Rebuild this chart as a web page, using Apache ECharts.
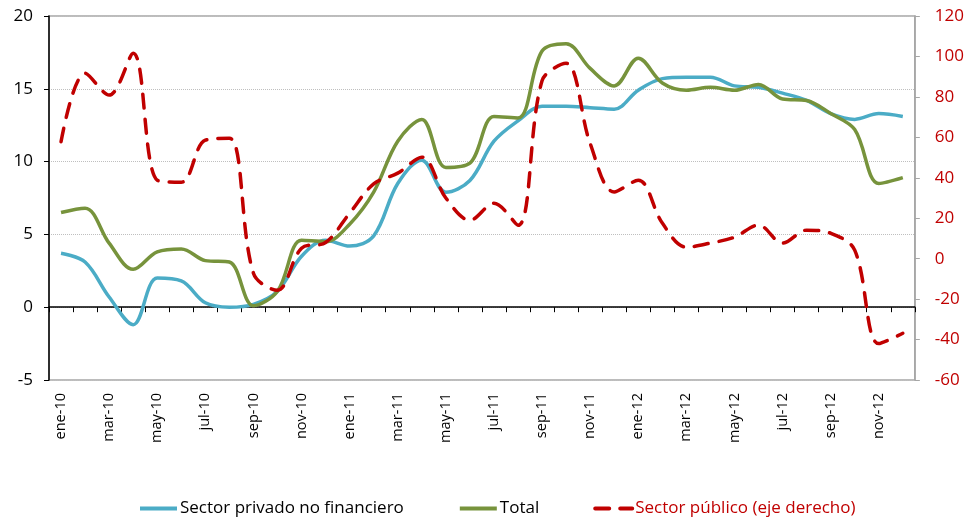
<!DOCTYPE html>
<html>
<head>
<meta charset="utf-8">
<script src="https://cdn.jsdelivr.net/npm/echarts@6/dist/echarts.min.js"></script>
<style>
  html, body { margin: 0; padding: 0; background: #fff; }
  .root { width: 967px; height: 518px; }
</style>
</head>
<body>
<div class="root"></div>
<script>
const months = [
  'ene-10', 'feb-10', 'mar-10', 'abr-10', 'may-10', 'jun-10', 'jul-10', 'ago-10', 'sep-10', 'oct-10', 'nov-10', 'dic-10',
  'ene-11', 'feb-11', 'mar-11', 'abr-11', 'may-11', 'jun-11', 'jul-11', 'ago-11', 'sep-11', 'oct-11', 'nov-11', 'dic-11',
  'ene-12', 'feb-12', 'mar-12', 'abr-12', 'may-12', 'jun-12', 'jul-12', 'ago-12', 'sep-12', 'oct-12', 'nov-12', 'dic-12'
]

// % variación, eje izquierdo
const privado = [
  3.7, 3.1, 0.7, -1.2, 2.0, 1.8, 0.3, 0.0, 0.2, 1.1, 3.5, 4.6,
  4.2, 4.9, 8.5, 10.1, 7.9, 8.7, 11.4, 12.8, 13.8, 13.8, 13.7, 13.6,
  14.9, 15.7, 15.8, 15.8, 15.2, 15.1, 14.7, 14.2, 13.3, 12.9, 13.3, 13.1
]
const total = [
  6.5, 6.8, 4.4, 2.6, 3.8, 4.0, 3.2, 3.1, 0.1, 1.1, 4.6, 4.5,
  5.7, 7.9, 11.4, 12.9, 9.6, 9.9, 13.1, 13.0, 17.6, 18.1, 16.4, 15.2,
  17.1, 15.4, 14.9, 15.1, 14.9, 15.3, 14.3, 14.2, 13.3, 12.2, 8.5, 8.9
]
// eje derecho
const publico = [
  57.8, 91.7, 80.9, 101.6, 38.8, 37.8, 58.6, 59.6, -7.2, -15.6, 5.2, 8.0,
  22.5, 37.0, 42.3, 50.2, 30.0, 19.0, 27.4, 16.5, 88.0, 96.6, 57.0, 33.0,
  38.8, 17.6, 5.7, 7.7, 10.6, 16.6, 7.7, 14.1, 12.6, 4.2, -42.0, -36.9
]

const FONT = 'Open Sans'
const RED = '#c00000'

const option = {
  animation: false,
  textStyle: { fontFamily: FONT },
  grid: {
    left: 49, right: 50, top: 16, bottom: 138,
    show: true, borderColor: '#a6a6a6', borderWidth: 1.5
  },
  legend: {
    bottom: 1,
    left: 138,
    padding: 0,
    itemWidth: 37,
    itemHeight: 12,
    itemGap: 54,
    itemStyle: { opacity: 0 },
    lineStyle: { width: 4 },
    textStyle: { fontSize: 17, color: '#000', fontFamily: FONT, padding: [0, 0, 0, -2] },
    data: [
      { name: 'Sector privado no financiero' },
      { name: 'Total' },
      { name: 'Sector público (eje derecho)', textStyle: { color: RED } }
    ]
  },
  xAxis: [
    {
      type: 'category',
      data: months,
      boundaryGap: true,
      position: 'bottom',
      axisLine: { show: false, onZero: false },
      axisTick: { show: false },
      axisLabel: {
        interval: 1,
        rotate: 90,
        fontSize: 14.5,
        color: '#000',
        margin: 13
      },
      splitLine: { show: false }
    },
    {
      type: 'category',
      data: months,
      boundaryGap: true,
      position: 'bottom',
      axisLine: { show: true, onZero: true, onZeroAxisIndex: 0, lineStyle: { color: '#000', width: 1.5 } },
      axisTick: { show: true, interval: 0, length: 5, lineStyle: { color: '#000' } },
      axisLabel: { show: false },
      splitLine: { show: false }
    }
  ],
  yAxis: [
    {
      type: 'value',
      min: -5, max: 20, interval: 5,
      position: 'left',
      axisLine: { show: true, lineStyle: { color: '#000', width: 1.5 } },
      axisTick: { show: true, length: 5, lineStyle: { color: '#000' } },
      axisLabel: { fontSize: 17, color: '#000', margin: 16 },
      splitLine: { show: true, lineStyle: { color: '#bfbfbf', type: 'dotted', width: 1 } }
    },
    {
      type: 'value',
      min: -60, max: 120, interval: 20,
      position: 'right',
      axisLine: { show: true, lineStyle: { color: '#a6a6a6', width: 1.5 } },
      axisTick: { show: true, length: 5, lineStyle: { color: '#a6a6a6' } },
      axisLabel: { fontSize: 17, color: RED, margin: 20 },
      splitLine: { show: false }
    }
  ],
  series: [
    {
      name: 'Sector privado no financiero',
      type: 'line',
      data: privado,
      smooth: 0.35,
      symbol: 'none',
      lineStyle: { color: '#4bacc6', width: 3.5 },
      itemStyle: { color: '#4bacc6' }
    },
    {
      name: 'Total',
      type: 'line',
      data: total,
      smooth: 0.35,
      symbol: 'none',
      lineStyle: { color: '#77933c', width: 3.5 },
      itemStyle: { color: '#77933c' }
    },
    {
      name: 'Sector público (eje derecho)',
      type: 'line',
      yAxisIndex: 1,
      data: publico,
      smooth: 0.35,
      symbol: 'none',
      lineStyle: { color: RED, width: 3.5, type: [14, 11], cap: 'round' },
      itemStyle: { color: RED }
    }
  ]
}

const chart = echarts.init(document.querySelector('.root'))
chart.setOption(option)
</script>
</body>
</html>
